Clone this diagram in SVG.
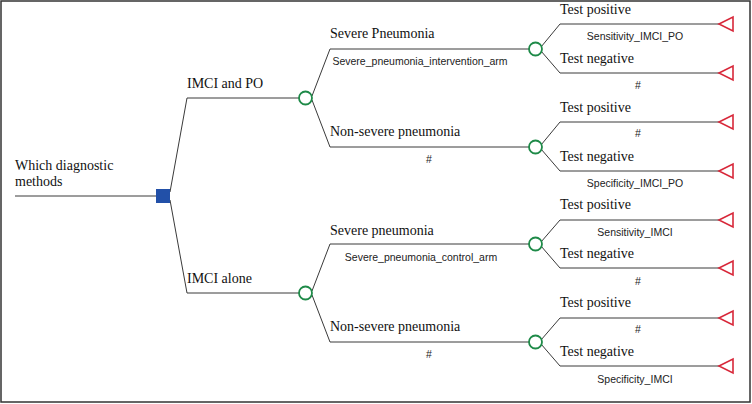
<svg xmlns="http://www.w3.org/2000/svg" width="752" height="404" viewBox="0 0 752 404">
<style>
.ln{fill:none;stroke:#3a3a3a;stroke-width:1}
.ch{fill:#fff;stroke:#1e8a48;stroke-width:1.8}
.tm{fill:none;stroke:#d8283a;stroke-width:1.6}
.s{font-family:"Liberation Serif",serif;font-size:14px;fill:#111}
.a{font-family:"Liberation Sans",Arial,sans-serif;font-size:10.5px;fill:#222}
.m{text-anchor:middle}
</style>
<rect x="1" y="1" width="749" height="401" fill="#fff" stroke="#333" stroke-width="1.5"/>
<g id="connectors">
<path class="ln" d="M15 196H156"/>
<path class="ln" d="M170 192L187 98H299"/>
<path class="ln" d="M170 200L187 293H299"/>
<path class="ln" d="M312 96L330 49H529"/>
<path class="ln" d="M312 100L330 147H529"/>
<path class="ln" d="M312 291L330 244H529"/>
<path class="ln" d="M312 295L330 342H529"/>
<path class="ln" d="M541 47L560 24H719"/>
<path class="ln" d="M541 51L560 73H719"/>
<path class="ln" d="M541 145L560 122H719"/>
<path class="ln" d="M541 149L560 171H719"/>
<path class="ln" d="M541 242L560 220H719"/>
<path class="ln" d="M541 246L560 268H719"/>
<path class="ln" d="M541 340L560 318H719"/>
<path class="ln" d="M541 344L560 366H719"/>
</g>
<g id="root">
<text class="s" x="15" y="170">Which diagnostic</text>
<text class="s" x="15" y="186">methods</text>
<rect x="156" y="189" width="14" height="14" fill="#2250a8"/>
</g>
<g id="imci_po">
<text class="s" x="187" y="88">IMCI and PO</text>
<circle class="ch" cx="305.5" cy="98" r="6.5"/>
</g>
<g id="imci_alone">
<text class="s" x="187" y="283">IMCI alone</text>
<circle class="ch" cx="305.5" cy="293" r="6.5"/>
</g>
<g id="po_severe">
<text class="s" x="330" y="38">Severe Pneumonia</text>
<text class="a m" x="420" y="65">Severe_pneumonia_intervention_arm</text>
<circle class="ch" cx="535.5" cy="49" r="6.5"/>
</g>
<g id="po_nonsevere">
<text class="s" x="330" y="136">Non-severe pneumonia</text>
<text class="a m" x="429" y="163">#</text>
<circle class="ch" cx="535.5" cy="147" r="6.5"/>
</g>
<g id="al_severe">
<text class="s" x="330" y="235">Severe pneumonia</text>
<text class="a m" x="421" y="261">Severe_pneumonia_control_arm</text>
<circle class="ch" cx="535.5" cy="244" r="6.5"/>
</g>
<g id="al_nonsevere">
<text class="s" x="330" y="331">Non-severe pneumonia</text>
<text class="a m" x="429" y="358">#</text>
<circle class="ch" cx="535.5" cy="342" r="6.5"/>
</g>
<g id="t1">
<text class="s" x="560" y="14">Test positive</text>
<text class="a m" x="635" y="40">Sensitivity_IMCI_PO</text>
<path class="tm" d="M719 24L733 17V31Z"/>
</g>
<g id="t2">
<text class="s" x="560" y="63">Test negative</text>
<text class="a m" x="638" y="89">#</text>
<path class="tm" d="M719 73L733 66V80Z"/>
</g>
<g id="t3">
<text class="s" x="560" y="112">Test positive</text>
<text class="a m" x="638" y="137">#</text>
<path class="tm" d="M719 122L733 115V129Z"/>
</g>
<g id="t4">
<text class="s" x="560" y="161">Test negative</text>
<text class="a m" x="635" y="187">Specificity_IMCI_PO</text>
<path class="tm" d="M719 171L733 164V178Z"/>
</g>
<g id="t5">
<text class="s" x="560" y="209">Test positive</text>
<text class="a m" x="635" y="236">Sensitivity_IMCI</text>
<path class="tm" d="M719 220L733 213V227Z"/>
</g>
<g id="t6">
<text class="s" x="560" y="258">Test negative</text>
<text class="a m" x="638" y="285">#</text>
<path class="tm" d="M719 268L733 261V275Z"/>
</g>
<g id="t7">
<text class="s" x="560" y="307">Test positive</text>
<text class="a m" x="638" y="333">#</text>
<path class="tm" d="M719 318L733 311V325Z"/>
</g>
<g id="t8">
<text class="s" x="560" y="356">Test negative</text>
<text class="a m" x="635" y="383">Specificity_IMCI</text>
<path class="tm" d="M719 366L733 359V373Z"/>
</g>
</svg>
